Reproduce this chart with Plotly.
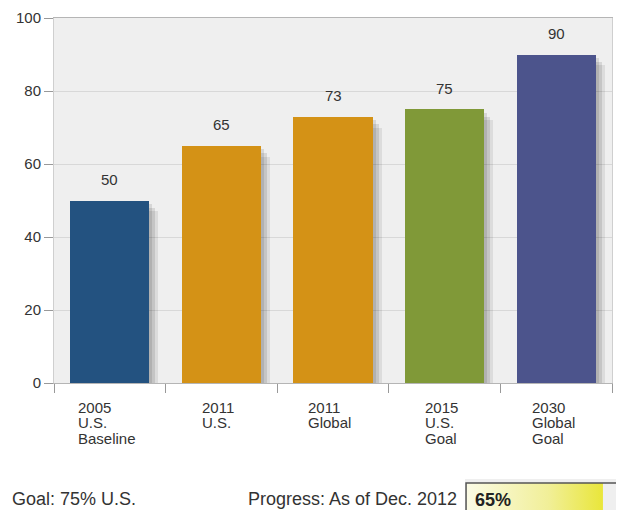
import plotly.graph_objects as go

# ---------------- data ----------------
CATEGORIES = ["2005\nU.S.\nBaseline", "2011\nU.S.", "2011\nGlobal",
              "2015\nU.S.\nGoal", "2030\nGlobal\nGoal"]
VALUES = [50, 65, 73, 75, 90]
BAR_COLORS = ["#235280", "#d49216", "#d49216", "#809938", "#4c548c"]
Y_TICKS = [0, 20, 40, 60, 80, 100]
GOAL_TEXT = "Goal: 75% U.S."
PROGRESS_TEXT = "Progress: As of Dec. 2012"
PROGRESS_VALUE = 65
GOAL_VALUE = 75

# ---------------- layout constants ----------------
# the page places the figure 8px from the top-left corner of the window
OFF = 8
W, H = 624 - OFF, 510 - OFF


def fx(px):
    return (px - OFF) / W


def fy(py):
    return (H - (py - OFF)) / H


PX_L, PX_R, PX_T, PX_B = 54, 612, 18, 383
FONT = "Liberation Sans, Arial, sans-serif"
TXT = "#333333"
BAR_W = 0.708
CAT_PX = (PX_R - PX_L) / len(CATEGORIES)

CHAR_W = {c: 0.556 for c in "0123456789"}
CHAR_W.update({"U": 0.722, ".": 0.278, "S": 0.667, "B": 0.667, "a": 0.556,
               "s": 0.5, "e": 0.556, "l": 0.222, "i": 0.222, "n": 0.556,
               "G": 0.778, "o": 0.556, "b": 0.556})


def text_w(s, size):
    return sum(CHAR_W.get(c, 0.556) for c in s) * size


fig = go.Figure()

# soft drop shadows behind bars
for dx, dy, a in [(3, 1.0, 0.10), (6, 2.0, 0.10), (9, 3.0, 0.08)]:
    fig.add_trace(go.Bar(
        x=CATEGORIES, y=[v - dy for v in VALUES],
        width=BAR_W, offset=-BAR_W / 2 + dx / CAT_PX,
        marker=dict(color=f"rgba(0,0,0,{a})", line=dict(width=0)),
        hoverinfo="skip", showlegend=False))

fig.add_trace(go.Bar(
    x=CATEGORIES, y=VALUES, width=BAR_W, offset=-BAR_W / 2,
    marker=dict(color=BAR_COLORS, line=dict(width=0)),
    showlegend=False))

annotations = []
# value labels above bars
for c, v in zip(CATEGORIES, VALUES):
    annotations.append(dict(x=c, y=v, xref="x", yref="y", text=str(v),
                            showarrow=False, yanchor="middle", yshift=21,
                            font=dict(family=FONT, size=15, color=TXT)))

# multi-line category labels, left aligned within a block centred on category
LINE_H = 15.5
for c in CATEGORIES:
    lines = c.split("\n")
    bw = max(text_w(s, 15) for s in lines)
    for i, s in enumerate(lines):
        annotations.append(dict(x=c, y=0, xref="x", yref="y", text=s,
                                showarrow=False, xanchor="left", yanchor="middle",
                                xshift=-bw / 2 - 5, yshift=-(24 + i * LINE_H),
                                font=dict(family=FONT, size=15, color=TXT)))

# bottom texts
annotations.append(dict(x=fx(10), y=fy(499), xref="paper", yref="paper",
                        text=GOAL_TEXT, showarrow=False, xanchor="left",
                        yanchor="middle",
                        font=dict(family=FONT, size=18, color=TXT)))
annotations.append(dict(x=fx(459), y=fy(499), xref="paper", yref="paper",
                        text=PROGRESS_TEXT, showarrow=False, xanchor="right",
                        yanchor="middle",
                        font=dict(family=FONT, size=18, color=TXT)))
annotations.append(dict(x=0, y=fy(500), xref="x2", yref="paper",
                        text=f"<b>{PROGRESS_VALUE}%</b>", showarrow=False,
                        xanchor="left", yanchor="middle", xshift=7,
                        font=dict(family=FONT, size=18, color="#222222")))

# progress gauge (fill up to progress value, box spans to goal value)
fig.add_trace(go.Scatter(
    x=[0, PROGRESS_VALUE, PROGRESS_VALUE, 0, 0], y=[0, 0, 1, 1, 0],
    xaxis="x2", yaxis="y2", mode="lines", fill="toself",
    line=dict(width=0),
    fillgradient=dict(type="horizontal",
                      colorscale=[[0, "#fbfbe6"], [0.6, "#f1ef98"],
                                  [1, "#e9e63a"]]),
    hoverinfo="skip", showlegend=False))
fig.add_trace(go.Scatter(
    x=[0, 0, GOAL_VALUE], y=[0, 1, 1], xaxis="x2", yaxis="y2",
    mode="lines", line=dict(color="#555555", width=1.5),
    hoverinfo="skip", showlegend=False))

# gauge box: top edge at y=483 px, axis bottom at window bottom (510 px)
Y2_TOP = 1.15
y2_dom_top = fy(510) + (fy(483) - fy(510)) * Y2_TOP

fig.update_layout(
    template="none",
    width=W, height=H, autosize=False,
    margin=dict(l=0, r=0, t=0, b=0, pad=0),
    paper_bgcolor="white", plot_bgcolor="#efefef",
    barmode="overlay", bargap=0,
    font=dict(family=FONT, size=15, color=TXT),
    annotations=annotations,
    xaxis=dict(domain=[fx(PX_L), fx(PX_R)], type="category",
               range=[-0.5, len(CATEGORIES) - 0.5], automargin=False,
               showticklabels=False, ticks="outside", ticklen=9,
               tickcolor="#999999", tickson="boundaries",
               showline=True, linecolor="#b5b5b5", mirror=True,
               showgrid=False, zeroline=False, fixedrange=True),
    yaxis=dict(domain=[fy(PX_B), fy(PX_T)], range=[0, 100],
               automargin=False,
               tickvals=Y_TICKS, ticks="outside", ticklen=9,
               tickcolor="#999999", tickfont=dict(size=15, color=TXT),
               showline=True, linecolor="#cfcfcf", mirror=True,
               showgrid=True, gridcolor="#d8d8d8", zeroline=False,
               fixedrange=True),
    xaxis2=dict(domain=[fx(465), 1], range=[-0.5, GOAL_VALUE],
                visible=False, fixedrange=True, automargin=False),
    yaxis2=dict(domain=[max(fy(510), 0), min(y2_dom_top, 1)],
                range=[0, Y2_TOP], visible=False,
                fixedrange=True, automargin=False),
)

fig.write_html("out.html")
